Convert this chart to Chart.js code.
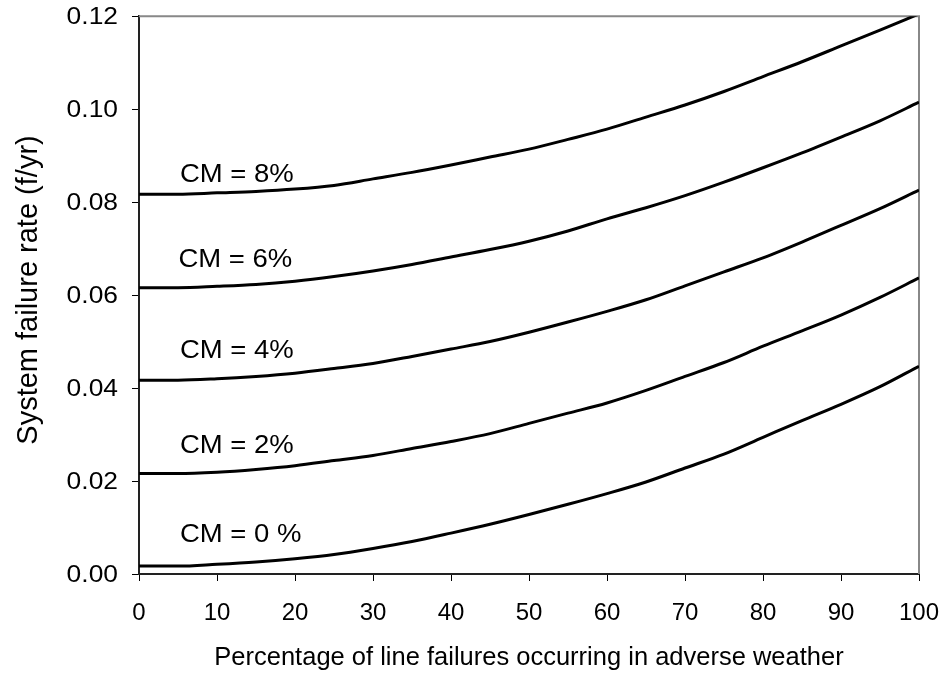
<!DOCTYPE html>
<html>
<head>
<meta charset="utf-8">
<title>System failure rate</title>
<script src="https://cdn.jsdelivr.net/npm/chart.js@4.4.0/dist/chart.umd.min.js"></script>
<style>
  html, body { margin: 0; padding: 0; background: #fff; }
  #wrap { width: 945px; height: 673px; }
</style>
</head>
<body>
<div id="wrap"><canvas id="myChart" width="945" height="673"></canvas></div>
<script>
// percentage of line failures occurring in adverse weather
const adversePct = [0, 5, 10, 15, 20, 25, 30, 35, 40, 45, 50, 55, 60, 65, 70, 75, 80, 85, 90, 95, 100];

// system failure rate (f/yr), one curve per CM value
const cm0 = [0.0017, 0.0017, 0.0021, 0.0026, 0.0033, 0.0042, 0.0055, 0.0070, 0.0088, 0.0107, 0.0128, 0.0150, 0.0173, 0.0198, 0.0228, 0.0258, 0.0294, 0.0330, 0.0365, 0.0403, 0.0447];
const cm2 = [0.0216, 0.0216, 0.0219, 0.0225, 0.0233, 0.0244, 0.0255, 0.0270, 0.0285, 0.0302, 0.0324, 0.0346, 0.0368, 0.0395, 0.0425, 0.0455, 0.0490, 0.0523, 0.0557, 0.0595, 0.0637];
const cm4 = [0.0417, 0.0417, 0.0420, 0.0425, 0.0432, 0.0442, 0.0453, 0.0468, 0.0484, 0.0500, 0.0520, 0.0542, 0.0565, 0.0590, 0.0620, 0.0650, 0.0680, 0.0714, 0.0750, 0.0786, 0.0826];
const cm6 = [0.0616, 0.0616, 0.0619, 0.0623, 0.0630, 0.0640, 0.0652, 0.0666, 0.0682, 0.0698, 0.0716, 0.0738, 0.0764, 0.0788, 0.0814, 0.0843, 0.0874, 0.0906, 0.0940, 0.0975, 0.1015];
const cm8 = [0.0817, 0.0817, 0.0820, 0.0823, 0.0828, 0.0836, 0.0850, 0.0864, 0.0880, 0.0897, 0.0914, 0.0935, 0.0957, 0.0983, 0.1009, 0.1038, 0.1070, 0.1102, 0.1136, 0.1170, 0.1205];

const curveLabels = ['CM = 0 %', 'CM = 2%', 'CM = 4%', 'CM = 6%', 'CM = 8%'];
// label anchor (left end of the baseline), in data units
const labelX = [5.25, 5.25, 5.25, 5.05, 5.25];
const labelY = [0.0069, 0.0260, 0.0465, 0.0660, 0.0843];

const xTicks = [0, 10, 20, 30, 40, 50, 60, 70, 80, 90, 100];
const yTicks = [0, 0.02, 0.04, 0.06, 0.08, 0.10, 0.12];
const yTickLabels = ['0.00', '0.02', '0.04', '0.06', '0.08', '0.10', '0.12'];

const xTitle = 'Percentage of line failures occurring in adverse weather';
const yTitle = 'System failure rate (f/yr)';

const FONT = '"Liberation Sans", Arial, sans-serif';

const toPoints = (ys) => adversePct.map((x, i) => ({ x: x, y: ys[i] }));

// some text in the original is a little wider than Arial, so stretch it sideways
function stretchText(ctx, txt, x, y, sx, align) {
    ctx.save();
    ctx.translate(x, y);
    ctx.scale(sx, 1);
    ctx.textAlign = align;
    ctx.fillText(txt, 0, 0);
    ctx.restore();
}

const textPlugin = {
    id: 'texts',
    afterDraw(chart) {
        const { ctx, scales: { x, y } } = chart;
        ctx.save();
        ctx.fillStyle = '#000';
        ctx.textBaseline = 'alphabetic';

        ctx.font = '24px ' + FONT;
        xTicks.forEach((v) => {
            stretchText(ctx, String(v), x.getPixelForValue(v), y.bottom + 46, 1.0, 'center');
        });
        yTicks.forEach((v, i) => {
            stretchText(ctx, yTickLabels[i], x.left - 21, y.getPixelForValue(v) + 8, 1.1, 'right');
        });

        ctx.font = '25px ' + FONT;
        curveLabels.forEach((txt, i) => {
            stretchText(ctx, txt, x.getPixelForValue(labelX[i]), y.getPixelForValue(labelY[i]), 1.1, 'left');
        });

        stretchText(ctx, xTitle, (x.left + x.right) / 2, y.bottom + 91, 1.02, 'center');

        ctx.save();
        ctx.translate(37, 290);
        ctx.rotate(-Math.PI / 2);
        ctx.font = '29px ' + FONT;
        ctx.textAlign = 'center';
        ctx.fillText(yTitle, 0, 0);
        ctx.restore();

        ctx.restore();
    }
};

// grey top and right frame edges
const framePlugin = {
    id: 'frame',
    beforeDatasetsDraw(chart) {
        const { ctx, chartArea: a } = chart;
        ctx.save();
        ctx.strokeStyle = '#888';
        ctx.lineWidth = 2;
        ctx.beginPath();
        ctx.moveTo(a.left, a.top);
        ctx.lineTo(a.right, a.top);
        ctx.lineTo(a.right, a.bottom);
        ctx.stroke();
        ctx.restore();
    }
};

const series = [cm0, cm2, cm4, cm6, cm8];

const myChart = new Chart(document.getElementById('myChart').getContext('2d'), {
    type: 'line',
    data: {
        datasets: series.map((ys, i) => ({
            label: curveLabels[i],
            data: toPoints(ys),
            borderColor: '#000',
            borderWidth: 3,
            pointRadius: 0,
            cubicInterpolationMode: 'monotone',
            fill: false
        }))
    },
    options: {
        responsive: false,
        animation: false,
        layout: { padding: { left: 0, top: 16, right: 26, bottom: 0 } },
        plugins: {
            legend: { display: false },
            tooltip: { enabled: false }
        },
        scales: {
            x: {
                type: 'linear',
                min: 0,
                max: 100,
                afterFit: (s) => { s.height = 99; },
                afterBuildTicks: (s) => { s.ticks = xTicks.map((v) => ({ value: v })); },
                ticks: {
                    color: 'rgba(0,0,0,0)',
                    maxRotation: 0,
                    font: { family: FONT, size: 22 }
                },
                grid: {
                    drawOnChartArea: false,
                    tickLength: 7,
                    color: '#000',
                    lineWidth: 1
                },
                border: { color: '#222', width: 2 }
            },
            y: {
                min: 0,
                max: 0.12,
                afterFit: (s) => { s.width = 139; },
                afterBuildTicks: (s) => { s.ticks = yTicks.map((v) => ({ value: v })); },
                ticks: {
                    color: 'rgba(0,0,0,0)',
                    font: { family: FONT, size: 22 },
                    callback: (v) => v.toFixed(2)
                },
                grid: {
                    drawOnChartArea: false,
                    tickLength: 7,
                    color: '#000',
                    lineWidth: 1
                },
                border: { color: '#222', width: 2 }
            }
        }
    },
    plugins: [framePlugin, textPlugin]
});
</script>
</body>
</html>
